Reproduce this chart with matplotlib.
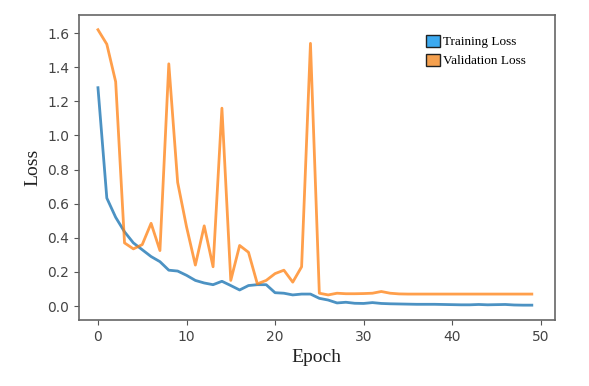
import numpy as np
import matplotlib.pyplot as plt
from matplotlib.patches import Patch

epochs = np.arange(50)
train_loss = [1.28, 0.633, 0.52, 0.435, 0.37, 0.33, 0.29, 0.26, 0.21, 0.205,
              0.18, 0.15, 0.135, 0.125, 0.145, 0.12, 0.094, 0.12, 0.125, 0.125,
              0.078, 0.075, 0.065, 0.07, 0.07, 0.045, 0.035, 0.018, 0.022, 0.016,
              0.015, 0.02, 0.015, 0.013, 0.012, 0.011, 0.01, 0.01, 0.01, 0.009,
              0.008, 0.007, 0.007, 0.009, 0.007, 0.008, 0.009, 0.006, 0.005, 0.005]
val_loss = [1.62, 1.535, 1.315, 0.37, 0.335, 0.36, 0.485, 0.325, 1.42, 0.725,
            0.465, 0.24, 0.47, 0.23, 1.16, 0.15, 0.355, 0.315, 0.13, 0.15,
            0.19, 0.21, 0.14, 0.23, 1.54, 0.075, 0.065, 0.075, 0.072, 0.072,
            0.073, 0.075, 0.085, 0.075, 0.071, 0.07, 0.07, 0.07, 0.07, 0.07,
            0.07, 0.07, 0.07, 0.07, 0.07, 0.07, 0.07, 0.07, 0.07, 0.07]

fig = plt.figure(figsize=(5.89, 3.86), dpi=100)
ax = fig.add_axes([0.134, 0.171, 0.808, 0.79])

ax.plot(epochs, train_loss, color='#1f77b4', lw=2, alpha=0.8)
ax.plot(epochs, val_loss, color='#ff7f0e', lw=2, alpha=0.75)

ax.set_xlim(-2.15, 51.6)
ax.set_ylim(-0.082, 1.706)
ax.set_xticks([0, 10, 20, 30, 40, 50])
ax.set_yticks([0.0, 0.2, 0.4, 0.6, 0.8, 1.0, 1.2, 1.4, 1.6])
ax.tick_params(labelsize=10, colors='#555555', labelcolor='#444444')
for s in ax.spines.values():
    s.set_color('#666666')
    s.set_linewidth(1.2)

ax.set_xlabel('Epoch', family='Liberation Serif', fontsize=14, color='#222222')
ax.set_ylabel('Loss', family='Liberation Serif', fontsize=14, color='#222222')

handles = [Patch(facecolor='#3daaf0', edgecolor='#222222', label='Training Loss'),
           Patch(facecolor='#f5a04e', edgecolor='#222222', label='Validation Loss')]
ax.legend(handles=handles, loc='upper right', bbox_to_anchor=(0.965, 0.975),
          frameon=False, prop={'family': 'Liberation Serif', 'size': 9.5},
          handlelength=1.1, handleheight=1.1, handletextpad=0.25, labelspacing=0.4)

fig.savefig('out.png', dpi=100)
